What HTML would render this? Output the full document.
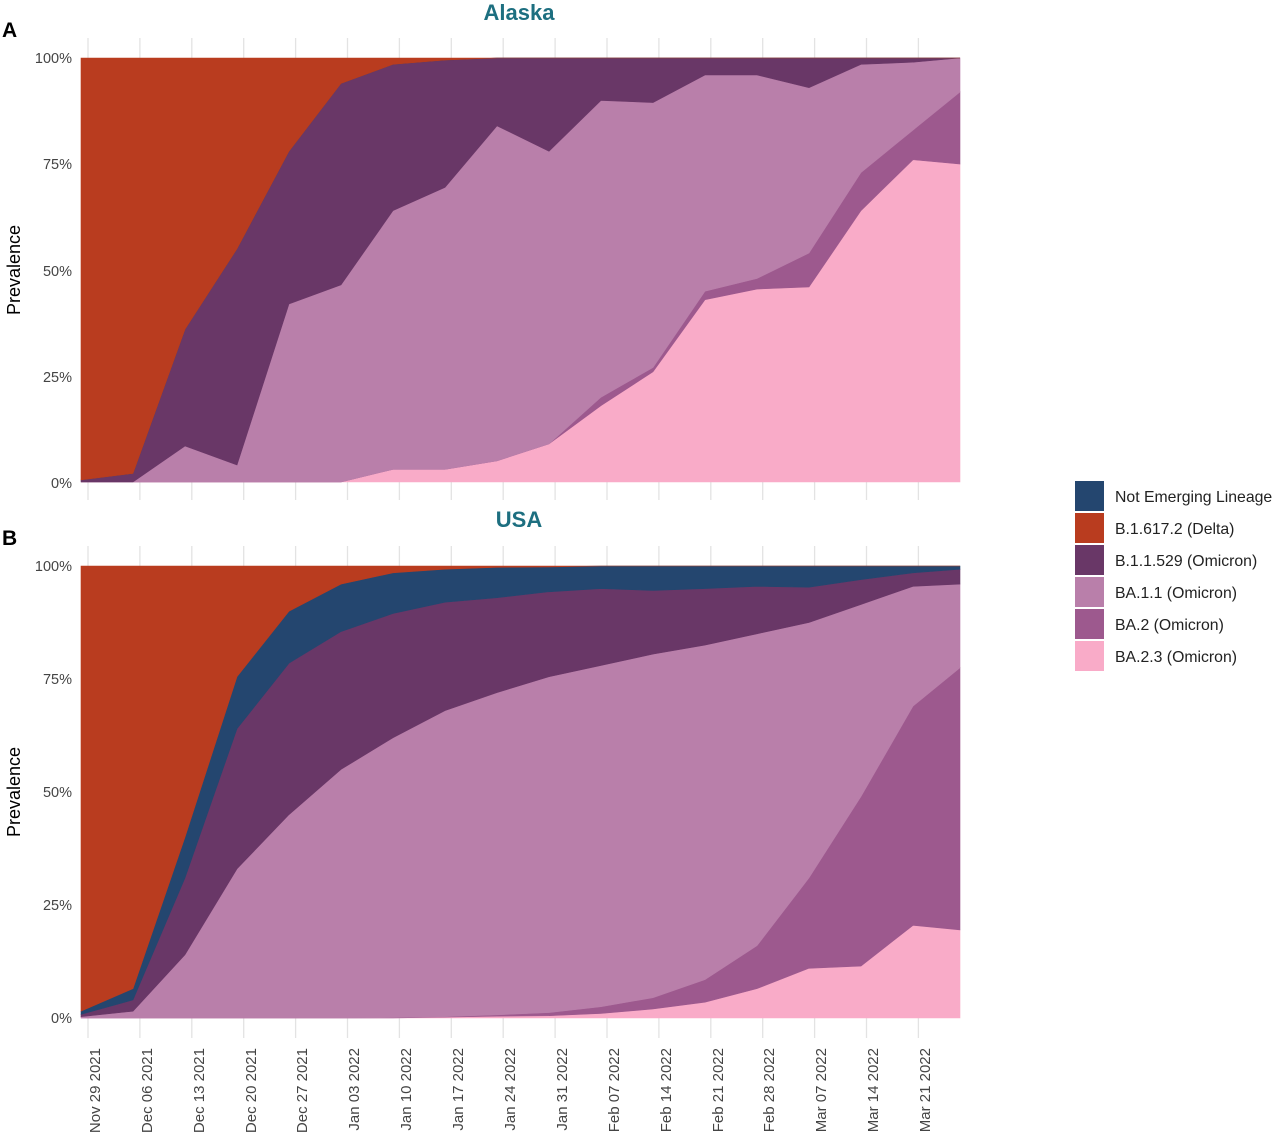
<!DOCTYPE html>
<html><head><meta charset="utf-8"><style>
body{margin:0;background:#fff;}
svg{display:block;font-family:"Liberation Sans",sans-serif;}
</style></head><body>
<svg id="s" width="1280" height="1143" viewBox="0 0 1280 1143">
<g id="grid" stroke="#e3e3e3" stroke-width="1.3"></g>
<g id="areas"></g>
<text x="519" y="20" font-size="22" font-weight="bold" fill="#1d6f80" text-anchor="middle">Alaska</text>
<text x="519" y="527" font-size="22" font-weight="bold" fill="#1d6f80" text-anchor="middle">USA</text>
<text x="2" y="37" font-size="21" font-weight="bold">A</text>
<text x="2" y="545" font-size="21" font-weight="bold">B</text>
<text transform="translate(20,270) rotate(-90)" font-size="18" text-anchor="middle">Prevalence</text>
<text transform="translate(20,792) rotate(-90)" font-size="18" text-anchor="middle">Prevalence</text>
<g font-size="14.5" fill="#444" text-anchor="end">
<text x="72" y="63">100%</text><text x="72" y="169">75%</text><text x="72" y="276">50%</text><text x="72" y="382">25%</text><text x="72" y="488">0%</text>
<text x="72" y="571">100%</text><text x="72" y="684">75%</text><text x="72" y="797">50%</text><text x="72" y="910">25%</text><text x="72" y="1023">0%</text>
</g>
<g font-size="15" fill="#444" text-anchor="end">
<text transform="translate(100,1048) rotate(-90)">Nov 29 2021</text>
<text transform="translate(152,1048) rotate(-90)">Dec 06 2021</text>
<text transform="translate(204,1048) rotate(-90)">Dec 13 2021</text>
<text transform="translate(256,1048) rotate(-90)">Dec 20 2021</text>
<text transform="translate(307,1048) rotate(-90)">Dec 27 2021</text>
<text transform="translate(359,1048) rotate(-90)">Jan 03 2022</text>
<text transform="translate(411,1048) rotate(-90)">Jan 10 2022</text>
<text transform="translate(463,1048) rotate(-90)">Jan 17 2022</text>
<text transform="translate(515,1048) rotate(-90)">Jan 24 2022</text>
<text transform="translate(567,1048) rotate(-90)">Jan 31 2022</text>
<text transform="translate(619,1048) rotate(-90)">Feb 07 2022</text>
<text transform="translate(671,1048) rotate(-90)">Feb 14 2022</text>
<text transform="translate(723,1048) rotate(-90)">Feb 21 2022</text>
<text transform="translate(774,1048) rotate(-90)">Feb 28 2022</text>
<text transform="translate(826,1048) rotate(-90)">Mar 07 2022</text>
<text transform="translate(878,1048) rotate(-90)">Mar 14 2022</text>
<text transform="translate(930,1048) rotate(-90)">Mar 21 2022</text>
</g>
<g font-size="15.8" fill="#222">
<rect x="1075" y="481" width="29" height="30" fill="#24466f"/><text x="1115" y="502">Not Emerging Lineage</text>
<rect x="1075" y="513" width="29" height="30" fill="#b93c1f"/><text x="1115" y="534">B.1.617.2 (Delta)</text>
<rect x="1075" y="545" width="29" height="30" fill="#693767"/><text x="1115" y="566">B.1.1.529 (Omicron)</text>
<rect x="1075" y="577" width="29" height="30" fill="#b97faa"/><text x="1115" y="598">BA.1.1 (Omicron)</text>
<rect x="1075" y="609" width="29" height="30" fill="#9d598e"/><text x="1115" y="630">BA.2 (Omicron)</text>
<rect x="1075" y="641" width="29" height="30" fill="#f9abc8"/><text x="1115" y="662">BA.2.3 (Omicron)</text>
</g>
</svg>
<script>
var ns="http://www.w3.org/2000/svg";
var g=document.getElementById('grid'),A=document.getElementById('areas');
for(var k=0;k<17;k++){var x=88+51.9*k;
 [[38,500],[546,1038]].forEach(function(r){var l=document.createElementNS(ns,'line');l.setAttribute('x1',x);l.setAttribute('x2',x);l.setAttribute('y1',r[0]);l.setAttribute('y2',r[1]);g.appendChild(l);});}
var xs=[];for(var i=0;i<18;i++)xs.push(i<17?81+52*i:960);
var cols=['#f9abc8','#9d598e','#b97faa','#693767','#24466f','#b93c1f'];
function draw(lay,y0,sc){
 var prev=xs.map(function(){return 0;});
 lay.forEach(function(top,j){
  var pts=[];
  for(var i=0;i<18;i++)pts.push(xs[i]+','+(y0-top[i]*sc));
  for(var i=17;i>=0;i--)pts.push(xs[i]+','+(y0-prev[i]*sc));
  var p=document.createElementNS(ns,'polygon');p.setAttribute('points',pts.join(' '));
  p.setAttribute('fill',cols[j]);p.setAttribute('stroke',cols[j]);p.setAttribute('stroke-width','0.6');
  A.appendChild(p);prev=top;
 });
}
var h=[100,100,100,100,100,100,100,100,100,100,100,100,100,100,100,100,100,100];
draw([
 [0,0,0,0,0,0,3,3,5,9,18,26,43,45.5,46,64,76,75],
 [0,0,0,0,0,0,3,3,5,9,20,27,45,48,54,73,83,92],
 [0,0,8.5,4,42,46.5,64,69.5,84,78,90,89.5,96,96,93,98.5,99,100],
 [0.5,2,36,55,78,94,98.5,99.5,100,100,100,100,100,100,100,100,100,100],
 [0.5,2,36,55,78,94,98.5,99.5,100,100,100,100,100,100,100,100,100,100],
 h],482,4.24);
draw([
 [0,0,0,0,0,0,0,0.2,0.4,0.5,1,2,3.5,6.5,11,11.5,20.5,19.5],
 [0,0,0,0,0,0,0.1,0.3,0.7,1.2,2.5,4.5,8.5,16,31,49,69,77.5],
 [0.3,1.5,14,33,45,55,62,68,72,75.5,78,80.5,82.5,85,87.5,91.5,95.5,96],
 [0.8,4,31,64,78.5,85.5,89.5,92,93,94.3,95,94.6,95,95.5,95.3,97,98.5,99.3],
 [1.5,6.5,40,75.5,90,96,98.5,99.3,99.7,99.8,100,100,100,100,100,100,100,100],
 h],1018,4.52);
</script>
</body></html>
